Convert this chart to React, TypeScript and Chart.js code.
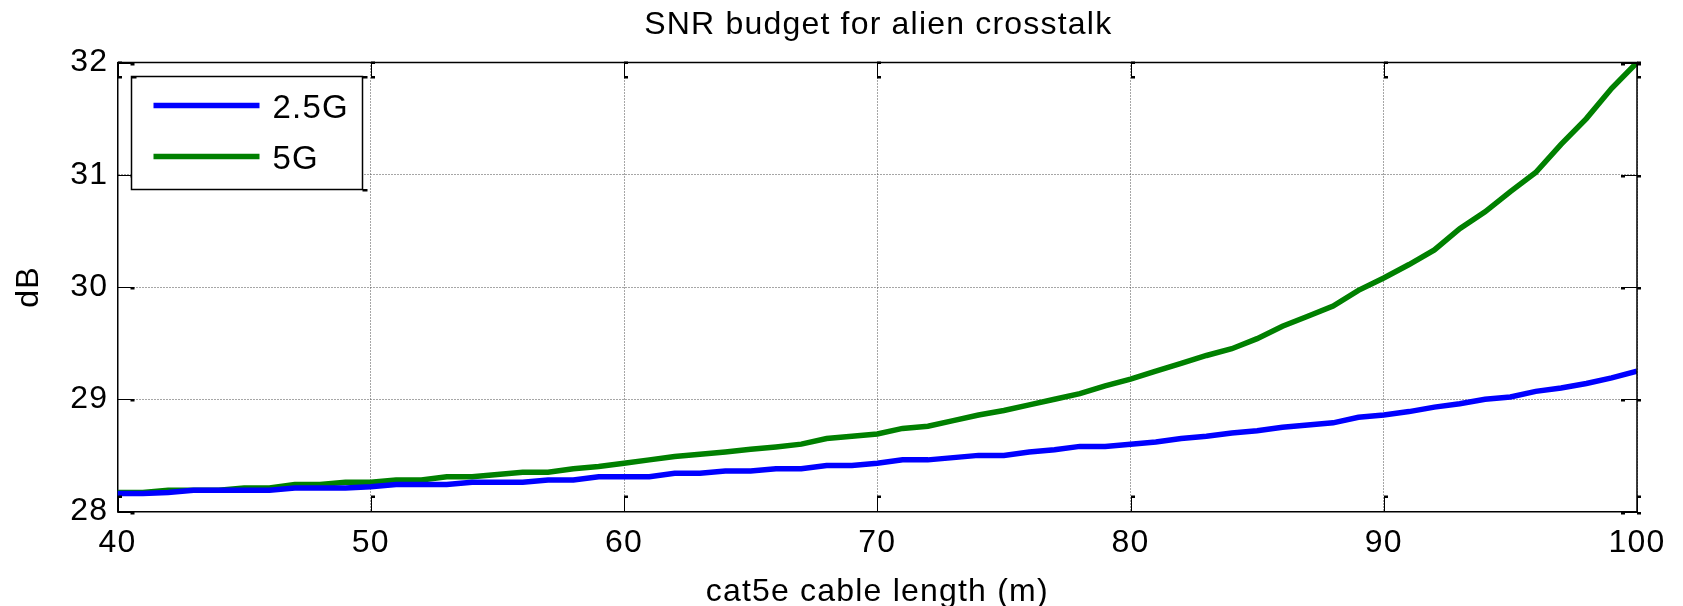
import React, { useEffect, useRef } from "react";
import { Chart, registerables } from "chart.js";

Chart.register(...registerables);

// ---- data ----
const cableLengths = [
  40, 41, 42, 43, 44, 45, 46, 47, 48, 49,
  50, 51, 52, 53, 54, 55, 56, 57, 58, 59,
  60, 61, 62, 63, 64, 65, 66, 67, 68, 69,
  70, 71, 72, 73, 74, 75, 76, 77, 78, 79,
  80, 81, 82, 83, 84, 85, 86, 87, 88, 89,
  90, 91, 92, 93, 94, 95, 96, 97, 98, 99,
  100,
];

const snr25G = [
  28.16, 28.16, 28.17, 28.19, 28.19, 28.19, 28.19, 28.21, 28.21, 28.21,
  28.22, 28.24, 28.24, 28.24, 28.26, 28.26, 28.26, 28.28, 28.28, 28.31,
  28.31, 28.31, 28.34, 28.34, 28.36, 28.36, 28.38, 28.38, 28.41, 28.41,
  28.43, 28.46, 28.46, 28.48, 28.5, 28.5, 28.53, 28.55, 28.58, 28.58,
  28.6, 28.62, 28.65, 28.67, 28.7, 28.72, 28.75, 28.77, 28.79, 28.84,
  28.86, 28.89, 28.93, 28.96, 29.0, 29.02, 29.07, 29.1, 29.14, 29.19,
  29.25,
];

const snr5G = [
  28.17, 28.17, 28.19, 28.19, 28.19, 28.21, 28.21, 28.24, 28.24, 28.26,
  28.26, 28.28, 28.28, 28.31, 28.31, 28.33, 28.35, 28.35, 28.38, 28.4,
  28.43, 28.46, 28.49, 28.51, 28.53, 28.555, 28.575, 28.6, 28.65, 28.67,
  28.69, 28.74, 28.76, 28.81, 28.86, 28.9, 28.95, 29.0, 29.05, 29.12,
  29.18, 29.25, 29.32, 29.39, 29.45, 29.54, 29.65, 29.74, 29.83, 29.97,
  30.08, 30.2, 30.33, 30.52, 30.67, 30.85, 31.02, 31.27, 31.5, 31.77,
  32.0,
];

const xTicks = [40, 50, 60, 70, 80, 90, 100];
const yTicks = [28, 29, 30, 31, 32];
const seriesLabels = ["2.5G", "5G"];
const seriesColors = ["#0000ff", "#008000"];
const chartTitle = "SNR budget for alien crosstalk";
const xTitle = "cat5e cable length (m)";
const yTitle = "dB";

const FONT = 'Arial, "Liberation Sans", Helvetica, sans-serif';
const SPACING = "1.2px";

// MATLAB-like slightly wide text rendering
const textSpacing = {
  id: "textSpacing",
  beforeUpdate(chart: any) {
    chart.ctx.letterSpacing = SPACING;
  },
  beforeDraw(chart: any) {
    chart.ctx.letterSpacing = SPACING;
  },
};

// title centred over the axes
const plotTitle = {
  id: "plotTitle",
  afterDraw(chart: any) {
    const { ctx, chartArea: a } = chart;
    ctx.save();
    ctx.letterSpacing = SPACING;
    ctx.font = `32px ${FONT}`;
    ctx.fillStyle = "#000";
    ctx.textAlign = "center";
    ctx.textBaseline = "alphabetic";
    ctx.fillText(chartTitle, (a.left + a.right) / 2 + 1, 34);
    ctx.restore();
  },
};

// box on top/right + inward MATLAB-like tick marks
const boxAndTicks = {
  id: "boxAndTicks",
  afterDatasetsDraw(chart: any) {
    const { ctx, chartArea: a, scales } = chart;
    ctx.save();
    ctx.strokeStyle = "#000";
    ctx.fillStyle = "#000";
    ctx.lineWidth = 1.5;
    ctx.beginPath();
    ctx.moveTo(a.left, a.top);
    ctx.lineTo(a.right, a.top);
    ctx.lineTo(a.right, a.bottom);
    ctx.stroke();

    const L = 15;
    ctx.lineWidth = 1;
    for (const v of xTicks) {
      const x = Math.round(scales.x.getPixelForValue(v)) + 0.5;
      ctx.beginPath();
      ctx.moveTo(x, a.bottom);
      ctx.lineTo(x, a.bottom - L);
      ctx.moveTo(x, a.top);
      ctx.lineTo(x, a.top + L);
      ctx.stroke();
      ctx.fillRect(x - 0.5, a.bottom - L - 1, 4, 2.5);
      ctx.fillRect(x - 0.5, a.top + L - 1.5, 4, 2.5);
      ctx.fillRect(x - 0.5, a.top - 1, 4, 2.5);
    }
    for (const v of yTicks) {
      const y = Math.round(scales.y.getPixelForValue(v)) + 0.5;
      ctx.beginPath();
      ctx.moveTo(a.left, y);
      ctx.lineTo(a.left + L, y);
      ctx.moveTo(a.right, y);
      ctx.lineTo(a.right - L, y);
      ctx.stroke();
      ctx.fillRect(a.left + L - 2, y - 0.5, 4, 2.5);
      ctx.fillRect(a.right - L - 1, y - 0.5, 4, 2.5);
      ctx.fillRect(a.right, y - 0.5, 4, 2.5);
    }
    ctx.restore();
  },
};

// MATLAB-style boxed legend inside the axes (north-west)
const insideLegend = {
  id: "insideLegend",
  afterDraw(chart: any) {
    const { ctx, chartArea: a } = chart;
    const left = Math.round(a.left + 13) + 0.5;
    const top = Math.round(a.top + 13) + 0.5;
    const w = 231;
    const h = 113;
    ctx.save();
    ctx.fillStyle = "#fff";
    ctx.fillRect(left, top, w, h);
    ctx.strokeStyle = "#000";
    ctx.lineWidth = 1.5;
    ctx.strokeRect(left, top, w, h);
    ctx.fillStyle = "#000";
    ctx.fillRect(left, top - 0.5, 5, 2.5);
    ctx.fillRect(left + w, top - 0.5, 5, 2.5);
    ctx.fillRect(left + w, top + h - 0.5, 5, 2.5);

    const rowsY = [top + 29, top + 80];
    chart.data.datasets.forEach((ds: any, i: number) => {
      const y = rowsY[i];
      ctx.strokeStyle = ds.borderColor;
      ctx.lineWidth = 5.5;
      ctx.beginPath();
      ctx.moveTo(left + 22, y);
      ctx.lineTo(left + 128, y);
      ctx.stroke();
      ctx.fillStyle = "#000";
      ctx.letterSpacing = SPACING;
      ctx.font = `33px ${FONT}`;
      ctx.textAlign = "left";
      ctx.textBaseline = "middle";
      ctx.fillText(ds.label, left + 141, y + 3);
    });
    ctx.restore();
  },
};

export default function App() {
  const canvasRef = useRef<HTMLCanvasElement | null>(null);

  useEffect(() => {
    const canvas = canvasRef.current;
    if (!canvas) return;
    const chart = new Chart(canvas, {
      type: "line",
      data: {
        datasets: [
          {
            label: seriesLabels[0],
            data: cableLengths.map((x, i) => ({ x, y: snr25G[i] })),
            borderColor: seriesColors[0],
            backgroundColor: seriesColors[0],
            borderWidth: 5.5,
            pointRadius: 0,
            tension: 0,
            fill: false,
          },
          {
            label: seriesLabels[1],
            data: cableLengths.map((x, i) => ({ x, y: snr5G[i] })),
            borderColor: seriesColors[1],
            backgroundColor: seriesColors[1],
            borderWidth: 5.5,
            pointRadius: 0,
            tension: 0,
            fill: false,
          },
        ],
      },
      options: {
        responsive: false,
        animation: false,
        devicePixelRatio: 1,
        layout: { padding: { left: 0, right: 46, top: 62.5, bottom: 0 } },
        plugins: {
          legend: { display: false },
          tooltip: { enabled: false },
          title: { display: false },
        },
        scales: {
          x: {
            type: "linear",
            position: "bottom",
            min: 40,
            max: 100,
            afterBuildTicks: (s: any) => {
              s.ticks = xTicks.map((v) => ({ value: v }));
            },
            ticks: {
              color: "#000",
              font: { family: FONT, size: 32, lineHeight: 1.2 },
              padding: 12,
              maxRotation: 0,
              autoSkip: false,
            },
            grid: { color: "#4d4d4d", lineWidth: 1, drawTicks: false },
            border: { display: true, color: "#000", width: 1.5, dash: [1, 2] },
            title: {
              display: true,
              text: xTitle,
              color: "#000",
              font: { family: FONT, size: 32, lineHeight: 1.2 },
              padding: { top: 0, bottom: -5.6 },
            },
            afterFit: (s: any) => {
              s.height = 94.5;
            },
          },
          y: {
            type: "linear",
            position: "left",
            min: 28,
            max: 32,
            afterBuildTicks: (s: any) => {
              s.ticks = yTicks.map((v) => ({ value: v }));
            },
            ticks: {
              color: "#000",
              font: { family: FONT, size: 32, lineHeight: 1.2 },
              padding: 9.3,
              autoSkip: false,
            },
            grid: { color: "#4d4d4d", lineWidth: 1, drawTicks: false },
            border: { display: true, color: "#000", width: 1.5, dash: [1, 2] },
            title: {
              display: true,
              text: yTitle,
              color: "#000",
              font: { family: FONT, size: 32, lineHeight: 1.2 },
              padding: { top: 9.7, bottom: 0 },
            },
            afterFit: (s: any) => {
              s.width = 117.5;
            },
          },
        },
      } as any,
      plugins: [textSpacing, boxAndTicks, insideLegend, plotTitle],
    });
    return () => chart.destroy();
  }, []);

  return (
    <div style={{ position: "absolute", left: 0, top: 0, width: 1683, height: 606, background: "#fff" }}>
      <canvas ref={canvasRef} width={1683} height={606} style={{ display: "block" }} />
    </div>
  );
}
